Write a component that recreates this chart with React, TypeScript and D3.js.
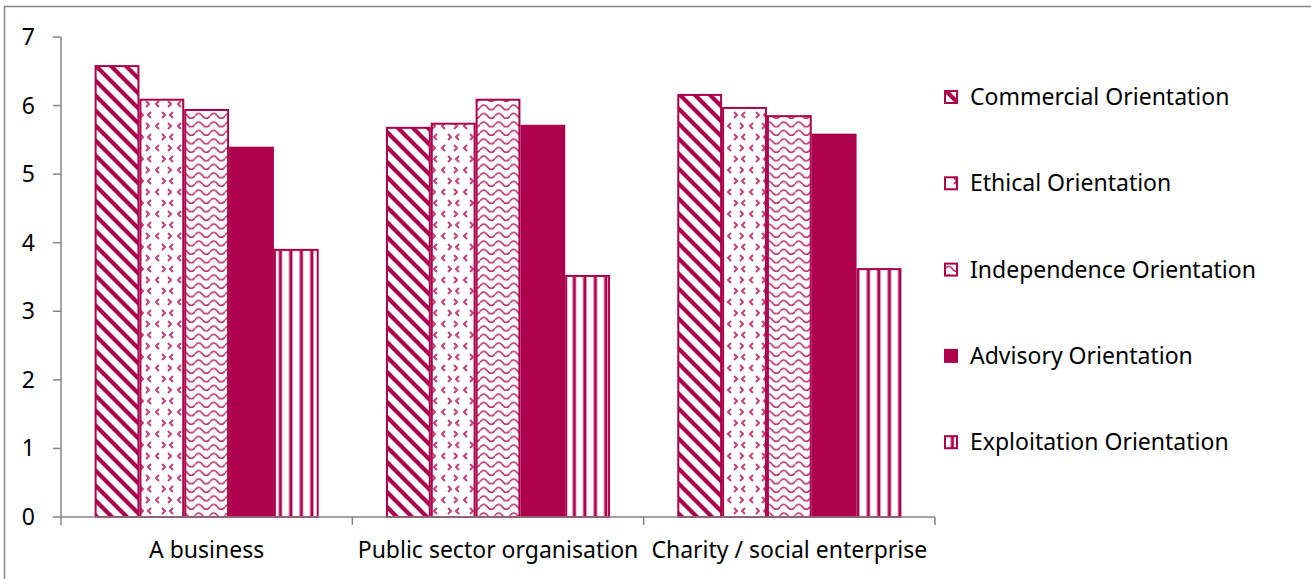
import React from "react";
import * as d3 from "d3";

const categories = ["A business", "Public sector organisation", "Charity / social enterprise"];
const seriesNames = [
  "Commercial Orientation",
  "Ethical Orientation",
  "Independence Orientation",
  "Advisory Orientation",
  "Exploitation Orientation",
];
const commercial = [6.59, 5.69, 6.17];
const ethical = [6.1, 5.75, 5.98];
const independence = [5.95, 6.1, 5.86];
const advisory = [5.4, 5.72, 5.59];
const exploitation = [3.91, 3.53, 3.63];
const yTicks = [0, 1, 2, 3, 4, 5, 6, 7];

const seriesValues = [commercial, ethical, independence, advisory, exploitation];
const patternIds = ["pCommercial", "pEthical", "pIndependence", "solid", "pExploitation"];

const W = 1311;
const H = 579;
const C = "#AC004C";
const AX = "#868686";
const FONT = "'Noto Sans', sans-serif";
const FS = 23;

export default function App() {
  const plot = { left: 61, right: 935, top: 37, bottom: 517 };
  const x = d3.scaleBand<string>().domain(categories).range([plot.left, plot.right]).paddingInner(0).paddingOuter(0);
  const xs = d3
    .scaleBand<string>()
    .domain(seriesNames)
    .range([0, x.bandwidth()])
    .paddingInner(0)
    .paddingOuter(0.75);
  const y = d3.scaleLinear().domain([0, 7]).range([plot.bottom, plot.top]);

  const fillFor = (i: number) => (patternIds[i] === "solid" ? C : `url(#${patternIds[i]})`);

  const legendX = 944;
  const legendY0 = 97;
  const legendStep = 86.3;

  const boundaries = [...categories.map((c) => x(c) as number), plot.right];

  return (
    <div style={{ position: "fixed", left: 0, top: 0, width: W, height: H, background: "#fff" }}>
      <svg width={W} height={H} style={{ display: "block" }} fontFamily={FONT}>
        <defs>
          <pattern id="pCommercial" patternUnits="userSpaceOnUse" width={15} height={15}>
            <rect width={15} height={15} fill="#fff" />
            <path d="M-4,-4 L19,19 M-4,11 L4,19 M11,-4 L19,4" stroke={C} strokeWidth={4.2} />
          </pattern>
          <pattern id="pEthical" patternUnits="userSpaceOnUse" width={22} height={22}>
            <rect width={22} height={22} fill="#fff" />
            <path
              d="M8,2 L11,5 L8,8 M19,2 L16,5 L19,8 M5,13 L2,16 L5,19 M14,13 L17,16 L14,19"
              stroke={C}
              strokeWidth={2}
              fill="none"
              opacity={0.75}
            />
          </pattern>
          <pattern id="pIndependence" patternUnits="userSpaceOnUse" width={15} height={8.5}>
            <rect width={15} height={8.5} fill="#fff" />
            <path d="M0,5.5 Q3.75,0.5 7.5,5.5 T15,5.5" stroke={C} strokeWidth={1.7} fill="none" opacity={0.8} />
          </pattern>
          <pattern id="pExploitation" patternUnits="userSpaceOnUse" width={10.5} height={10}>
            <rect width={10.5} height={10} fill="#fff" />
            <rect x={6} y={0} width={2.6} height={10} fill={C} />
            <rect x={5} y={0} width={1} height={10} fill={C} opacity={0.35} />
            <rect x={8.6} y={0} width={1} height={10} fill={C} opacity={0.35} />
          </pattern>
        </defs>

        <rect x={4.5} y={6.5} width={W + 10} height={H + 10} fill="none" stroke={AX} strokeWidth={1.5} />

        {categories.map((cat, ci) => (
          <g key={cat}>
            {seriesNames.map((s, si) => {
              const v = seriesValues[si][ci];
              const bx = (x(cat) as number) + (xs(s) as number);
              const by = y(v);
              return (
                <rect
                  key={s}
                  x={bx + 1}
                  y={by + 1}
                  width={xs.bandwidth() - 2}
                  height={y(0) - by - 1}
                  fill={fillFor(si)}
                  stroke={C}
                  strokeWidth={2}
                />
              );
            })}
          </g>
        ))}

        <line x1={plot.left} x2={plot.left} y1={y(7)} y2={y(0)} stroke={AX} strokeWidth={1.5} />
        {yTicks.map((t) => (
          <g key={t}>
            <line x1={plot.left - 8} x2={plot.left} y1={y(t)} y2={y(t)} stroke={AX} strokeWidth={1.5} />
            <text x={35} y={y(t)} dy="0.35em" textAnchor="end" fontSize={FS} fill="#000">
              {t}
            </text>
          </g>
        ))}

        <line x1={plot.left} x2={plot.right} y1={y(0)} y2={y(0)} stroke={AX} strokeWidth={1.5} />
        {boundaries.map((b, i) => (
          <line key={i} x1={b} x2={b} y1={y(0)} y2={y(0) + 8} stroke={AX} strokeWidth={1.5} />
        ))}
        {categories.map((cat) => (
          <text
            key={cat}
            x={(x(cat) as number) + x.bandwidth() / 2}
            y={550}
            dy="0.35em"
            textAnchor="middle"
            fontSize={FS}
            fill="#000"
          >
            {cat}
          </text>
        ))}

        {seriesNames.map((s, i) => {
          const ly = legendY0 + i * legendStep;
          return (
            <g key={s}>
              <rect x={legendX + 1} y={ly - 6} width={12} height={12} fill={fillFor(i)} stroke={C} strokeWidth={2} />
              <text x={970} y={ly} dy="0.35em" fontSize={FS} fill="#000">
                {s}
              </text>
            </g>
          );
        })}
      </svg>
    </div>
  );
}
